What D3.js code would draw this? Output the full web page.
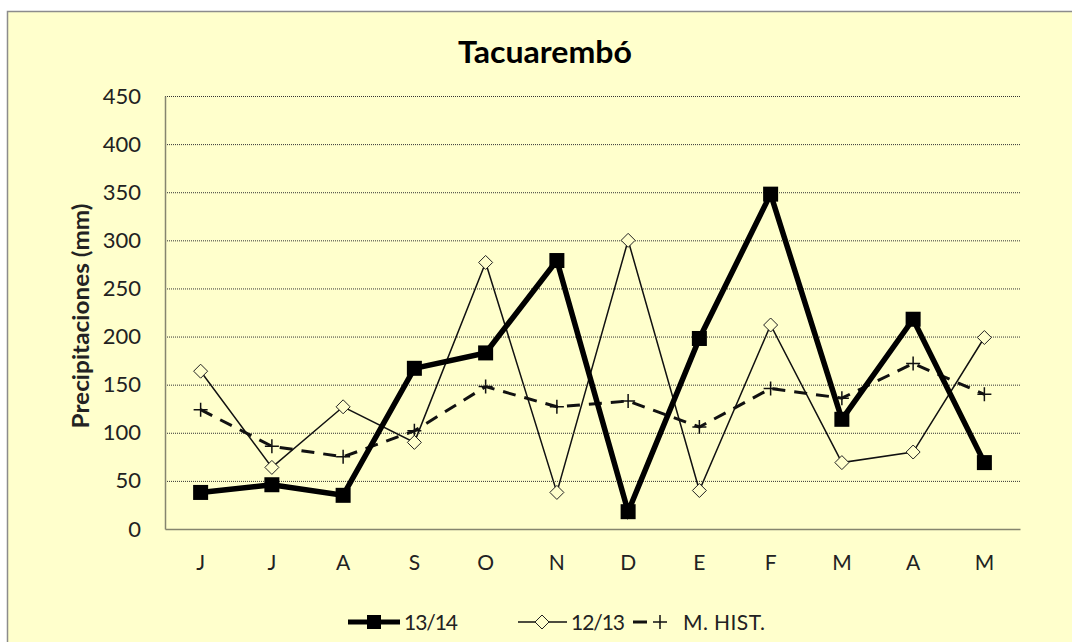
<!DOCTYPE html>
<html><head><meta charset="utf-8">
<script src="https://cdn.jsdelivr.net/npm/d3@7"></script>
<style>body{margin:0;background:#fff}svg{display:block}</style>
</head><body>
<script>
const months = ["J","J","A","S","O","N","D","E","F","M","A","M"];
const s1314 = [38,46,35,167,183,279,18,198,348,114,218,69];
const s1213 = [164,64,127,90,277,38,300,40,212,69,80,199];
const hist = [124,86,75,102,148,127,133,106,146,136,172,140];
const yTicks = [0,50,100,150,200,250,300,350,400,450];
const seriesNames = ["13/14","12/13","M. HIST."];

const W=1072,H=642;
const font="Lato, 'Open Sans', sans-serif";
const svg=d3.select("body").append("svg").attr("width",W).attr("height",H);
svg.append("rect").attr("x",7.5).attr("y",11.5).attr("width",W).attr("height",H)
  .attr("fill","#FFFFCC").attr("stroke","#8c8c8c").attr("stroke-width",1.5);

const L=165,R=1020,T=96,B=529;
const x=d3.scaleBand().domain(d3.range(12)).range([L,R]);
const y=d3.scaleLinear().domain([0,450]).range([B,T]);
const cx=i=>x(i)+x.bandwidth()/2;

// grid
svg.append("g").selectAll("line").data(yTicks.filter(d=>d>0)).join("line")
  .attr("x1",L).attr("x2",R).attr("y1",d=>y(d)+0.5).attr("y2",d=>y(d)+0.5)
  .attr("stroke","#333").attr("stroke-width",1).attr("stroke-dasharray","1,1");

// axes
const ya=svg.append("g").attr("transform",`translate(${L},0)`)
  .call(d3.axisLeft(y).tickValues(yTicks).tickSize(0).tickPadding(24));
ya.select(".domain").attr("stroke","#85856e").attr("stroke-width",1.5);
ya.selectAll("text").attr("font-family",font).attr("font-size",22).attr("fill","#222");
const xa=svg.append("g").attr("transform",`translate(0,${B})`)
  .call(d3.axisBottom(x).tickFormat(i=>months[i]).tickSize(0).tickPadding(26));
xa.select(".domain").attr("stroke","#85856e").attr("stroke-width",1.5);
xa.selectAll("text").attr("font-family",font).attr("font-size",21).attr("fill","#222");

svg.append("text").attr("x",545).attr("y",63).attr("text-anchor","middle")
  .attr("font-family",font).attr("font-weight","bold").attr("font-size",30)
  .attr("textLength",174).attr("lengthAdjust","spacingAndGlyphs").text("Tacuarembó");
svg.append("text").attr("transform","translate(89,316) rotate(-90)").attr("text-anchor","middle")
  .attr("font-family",font).attr("font-weight","bold").attr("font-size",22).attr("fill","#222")
  .attr("textLength",225).attr("lengthAdjust","spacingAndGlyphs").text("Precipitaciones (mm)");

const line=d3.line().x((d,i)=>cx(i)).y(d=>y(d));
// hist
svg.append("path").datum(hist).attr("d",line).attr("fill","none").attr("stroke","#111")
  .attr("stroke-width",3).attr("stroke-dasharray","13,9");
svg.append("g").selectAll("path").data(hist).join("path")
  .attr("d",(d,i)=>`M${cx(i)-7},${y(d)}h14M${cx(i)},${y(d)-7}v14`)
  .attr("stroke","#111").attr("stroke-width",1.5);
// 12/13
svg.append("path").datum(s1213).attr("d",line).attr("fill","none").attr("stroke","#111").attr("stroke-width",1.5);
svg.append("g").selectAll("path").data(s1213).join("path")
  .attr("d",(d,i)=>`M${cx(i)},${y(d)-7}l7,7l-7,7l-7,-7z`)
  .attr("fill","#FFFFCC").attr("stroke","#222").attr("stroke-width",1);
// 13/14
svg.append("path").datum(s1314).attr("d",line).attr("fill","none").attr("stroke","#000").attr("stroke-width",5.5);
svg.append("g").selectAll("rect").data(s1314).join("rect")
  .attr("x",(d,i)=>cx(i)-7.5).attr("y",d=>y(d)-7.5).attr("width",15).attr("height",15).attr("fill","#000");

// legend
const ly=622;
const lg=svg.append("g").attr("font-family",font).attr("font-size",21).attr("fill","#222");
lg.append("line").attr("x1",348).attr("x2",400).attr("y1",ly).attr("y2",ly).attr("stroke","#000").attr("stroke-width",5);
lg.append("rect").attr("x",367).attr("y",ly-7).attr("width",14).attr("height",14).attr("fill","#000");
lg.append("text").attr("x",404).attr("y",ly+8).attr("textLength",54).text(seriesNames[0]);
lg.append("line").attr("x1",518).attr("x2",567).attr("y1",ly).attr("y2",ly).attr("stroke","#111").attr("stroke-width",1.5);
lg.append("path").attr("d",`M542,${ly-7}l7,7l-7,7l-7,-7z`).attr("fill","#FFFFCC").attr("stroke","#222");
lg.append("text").attr("x",571).attr("y",ly+8).attr("textLength",54).text(seriesNames[1]);
lg.append("line").attr("x1",633).attr("x2",647).attr("y1",ly).attr("y2",ly).attr("stroke","#111").attr("stroke-width",3);
lg.append("path").attr("d",`M653,${ly}h14M660,${ly-7}v14`).attr("stroke","#111").attr("stroke-width",1.5);
lg.append("text").attr("x",683).attr("y",ly+8).attr("textLength",82).text(seriesNames[2]);
</script>
</body></html>
